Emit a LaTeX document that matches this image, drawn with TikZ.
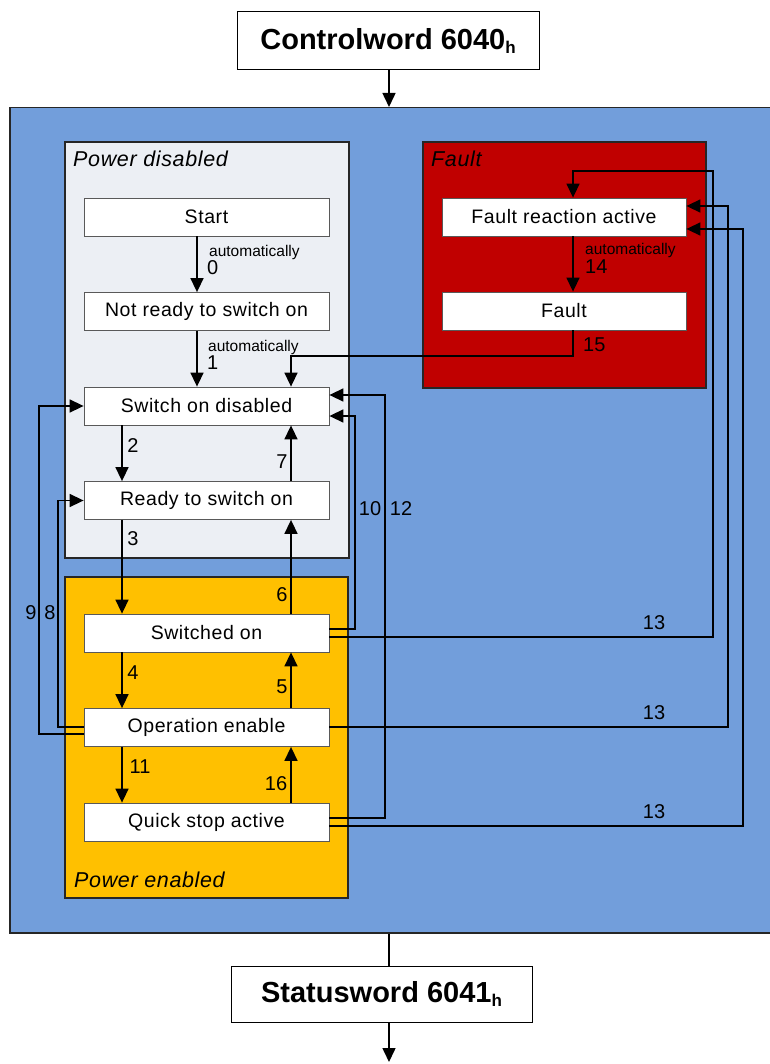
\documentclass[tikz,border=0pt]{standalone}
\usepackage{fontspec}
\setmainfont{Liberation Sans}
\usetikzlibrary{arrows.meta,calc}
\definecolor{bgblue}{RGB}{114,158,219}
\definecolor{pdgray}{RGB}{236,239,244}
\definecolor{peorange}{RGB}{255,192,0}
\definecolor{fred}{RGB}{192,0,0}
\begin{document}
\begin{tikzpicture}[x=1pt,y=-1pt,
 stbox/.style={draw=gray!70!black, line width=0.8pt, fill=white, minimum width=245pt, minimum height=38pt, inner sep=0pt, font=\fontsize{19.5}{22}\selectfont\addfontfeature{LetterSpace=3}},
 grpbox/.style={draw=black!85, line width=1.8pt, inner sep=0pt, anchor=north west},
 conn/.style={line width=1.5pt},
 arr/.style={conn, -{Triangle[length=14pt,width=13pt]}},
 lbl/.style={font=\fontsize{20}{24}\selectfont, inner sep=0pt},
 autolbl/.style={font=\fontsize{15.5}{17}\selectfont, inner sep=0pt, anchor=west},
 titlebox/.style={draw, line width=1pt, fill=white, font=\fontsize{29}{34}\bfseries\selectfont, minimum width=302pt, minimum height=58pt},
 grplbl/.style={font=\fontsize{21.5}{24}\itshape\selectfont\addfontfeature{LetterSpace=3}, anchor=west, inner sep=0pt}
]
\useasboundingbox (0,0) rectangle (769,1064);
% background groups
\node[grpbox, line width=1.5pt, fill=bgblue, minimum width=771pt, minimum height=825pt] (main) at (9,107) {};
\node[grpbox, fill=pdgray, minimum width=284pt, minimum height=416pt] (pdis) at (64,141) {};
\node[grpbox, fill=peorange, minimum width=283pt, minimum height=321pt] (pen) at (64,576) {};
\node[grpbox, fill=fred, minimum width=283pt, minimum height=246pt] (fgrp) at (422,141) {};
\node[grplbl] (tpd) at (73,159) {Power disabled};
\node[grplbl] (tf) at (431,159) {Fault};
\node[grplbl] (tpe) at (74,880) {Power enabled};
% states
\node[stbox] (start) at (206.5,217) {Start};
\node[stbox] (notready) at (206.5,311.5) {Not ready to switch on};
\node[stbox] (sod) at (206.5,406) {Switch on disabled};
\node[stbox] (rtso) at (206.5,500.5) {Ready to switch on};
\node[stbox] (swon) at (206.5,633) {Switched on};
\node[stbox] (opena) at (206.5,727.5) {Operation enable};
\node[stbox] (qsa) at (206.5,822) {Quick stop active};
\node[stbox, minimum width=244pt] (fra) at (564,217) {Fault reaction active};
\node[stbox, minimum width=244pt] (fault) at (564,311) {Fault};
% title boxes
\node[titlebox] (cw) at (388,41) {Controlword 6040\raisebox{-4pt}{\fontsize{17}{17}\selectfont h}};
\node[titlebox, minimum width=301pt, minimum height=56pt] (sw) at (381.5,994) {Statusword 6041\raisebox{-4pt}{\fontsize{17}{17}\selectfont h}};
% helper coordinates
\coordinate (xm) at (389,0);
\coordinate (xa) at (197,0);
\coordinate (xl) at (122,0);
\coordinate (xr) at (291,0);
\coordinate (xf) at (573,0);
\coordinate (x9) at (39,0);
\coordinate (x8) at (58,0);
\coordinate (x10) at (355,0);
\coordinate (x12) at (385,0);
\coordinate (x13a) at (713,0);
\coordinate (x13b) at (728,0);
\coordinate (x13c) at (743,0);
\coordinate (y15) at (0,356);
\coordinate (y13) at (0,171);
\coordinate (bend) at (389,1062);
% top / bottom
\draw[arr] (cw.south -| xm) -- (main.north -| xm);
\draw[conn] (main.south -| xm) -- (sw.north -| xm);
\draw[arr] (sw.south -| xm) -- (bend);
% transitions
\draw[arr] (start.south -| xa) -- (notready.north -| xa);
\draw[arr] (notready.south -| xa) -- (sod.north -| xa);
\draw[arr] (fra.south -| xf) -- (fault.north -| xf);
\draw[arr] (fault.south -| xf) -- (xf |- y15) -- (xr |- y15) -- (sod.north -| xr);
\draw[arr] (sod.south -| xl) -- (rtso.north -| xl);
\draw[arr] (rtso.north -| xr) -- (sod.south -| xr);
\draw[arr] (rtso.south -| xl) -- (swon.north -| xl);
\draw[arr] (swon.north -| xr) -- (rtso.south -| xr);
\draw[arr] (swon.south -| xl) -- (opena.north -| xl);
\draw[arr] (opena.north -| xr) -- (swon.south -| xr);
\draw[arr] (opena.south -| xl) -- (qsa.north -| xl);
\draw[arr] (qsa.north -| xr) -- (opena.south -| xr);
% 9 and 8
\coordinate (p9) at ($(opena.west)+(0,6.5)$);
\draw[arr] (p9) -- (x9 |- p9) -- (x9 |- sod.west) -- (sod.west);
\coordinate (p8) at ($(opena.west)+(0,-0.5)$);
\draw[arr] (p8) -- (x8 |- p8) -- (x8 |- rtso.west) -- (rtso.west);
% 10 and 12
\coordinate (p10) at ($(swon.east)+(0,-4)$);
\coordinate (q10) at ($(sod.east)+(0,10)$);
\draw[arr] (p10) -- (x10 |- p10) -- (x10 |- q10) -- (q10);
\coordinate (p12) at ($(qsa.east)+(0,-4)$);
\coordinate (q12) at ($(sod.east)+(0,-11)$);
\draw[arr] (p12) -- (x12 |- p12) -- (x12 |- q12) -- (q12);
% 13
\coordinate (p13a) at ($(swon.east)+(0,4)$);
\draw[arr] (p13a) -- (x13a |- p13a) -- (x13a |- y13) -- (xf |- y13) -- (fra.north -| xf);
\coordinate (p13b) at ($(opena.east)+(0,-0.5)$);
\coordinate (q13b) at ($(fra.east)+(0,-11)$);
\draw[arr] (p13b) -- (x13b |- p13b) -- (x13b |- q13b) -- (q13b);
\coordinate (p13c) at ($(qsa.east)+(0,4)$);
\coordinate (q13c) at ($(fra.east)+(0,12)$);
\draw[arr] (p13c) -- (x13c |- p13c) -- (x13c |- q13c) -- (q13c);
% labels
\node[autolbl] (la0) at (209,252) {automatically};
\node[lbl, anchor=west] (l0) at (207,268) {0};
\node[autolbl] (la1) at (208,347) {automatically};
\node[lbl, anchor=west] (l1) at (207,363) {1};
\node[autolbl] (la14) at (585,250) {automatically};
\node[lbl, anchor=west] (l14) at (585,267) {14};
\node[lbl, anchor=west] (l15) at (583,345) {15};
\node[lbl] (l2) at (133,446) {2};
\node[lbl] (l7) at (282,462) {7};
\node[lbl] (l3) at (133,539) {3};
\node[lbl] (l6) at (282,595) {6};
\node[lbl] (l4) at (133,673) {4};
\node[lbl] (l5) at (282,687) {5};
\node[lbl] (l11) at (140,767) {11};
\node[lbl] (l16) at (276,784) {16};
\node[lbl] (l9) at (31,613) {9};
\node[lbl] (l8) at (50,613) {8};
\node[lbl] (l10) at (370,509) {10};
\node[lbl] (l12) at (401,509) {12};
\node[lbl] (l13a) at (654,623) {13};
\node[lbl] (l13b) at (654,713) {13};
\node[lbl] (l13c) at (654,812) {13};
\end{tikzpicture}
\end{document}
